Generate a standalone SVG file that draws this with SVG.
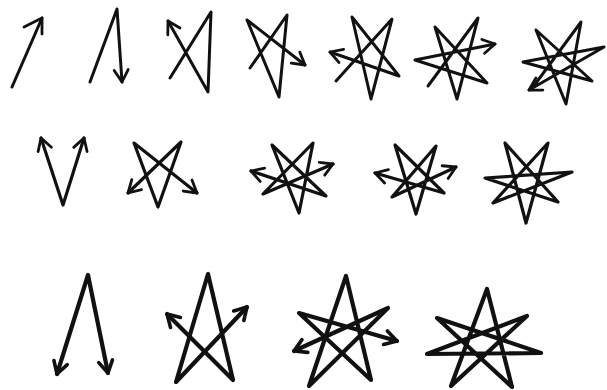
<svg xmlns="http://www.w3.org/2000/svg" width="607" height="390" viewBox="0 0 607 390">
<defs>
<style>
.s{fill:none;stroke:#111;stroke-linecap:round;stroke-linejoin:round}
.r1{stroke-width:3}
.r2{stroke-width:3.2}
.r3{stroke-width:4.2}
.a{marker-end:url(#ah)}
.aa{marker-start:url(#ah);marker-end:url(#ah)}
.ab{marker-start:url(#ahb);marker-end:url(#ahb)}
</style>
<marker id="ah" viewBox="-16 -10 18 20" markerWidth="18" markerHeight="20" refX="0" refY="0" orient="auto-start-reverse" markerUnits="userSpaceOnUse">
<path d="M-12,-7 L0,0 L-12,7" fill="none" stroke="#111" stroke-width="2.8" stroke-linecap="round" stroke-linejoin="round"/>
</marker>
<marker id="ahb" viewBox="-16 -10 18 20" markerWidth="18" markerHeight="20" refX="0" refY="0" orient="auto-start-reverse" markerUnits="userSpaceOnUse">
<path d="M-12,-7 L0,0 L-12,7" fill="none" stroke="#111" stroke-width="3.6" stroke-linecap="round" stroke-linejoin="round"/>
</marker>
</defs>
<rect width="607" height="390" fill="#fff"/>
<g id="row1">
<g id="r1f1">
<polyline class="s r1" points="12,87 42,18"/>
<polyline class="s" stroke-width="2.8" points="24,27 42,18 42,34"/>
</g>
<polyline id="r1f2" class="s r1 a" points="90,82 117,9 122,82"/>
<polyline id="r1f3" class="s r1 a" points="170,78 211,12 208,92 168,21"/>
<polyline id="r1f4" class="s r1 a" points="250,68 287,15 279,97 247,20 305,65"/>
<polyline id="r1f5" class="s r1 a" points="336,81 392,19 371,99 352,17 399,76 330,52"/>
<polyline id="r1f6" class="s r1 a" points="428,86 478,18 457,99 435,27 487,83 415,60 495,44"/>
<polyline id="r1f7" class="s r1 a" points="533,87 581,22 566,104 536,30 592,81 523,62 604,47 529,90"/>
</g>
<g id="row2">
<polyline id="r2f1" class="s r2 aa" points="41,138 63,205 84,138"/>
<polyline id="r2f2" class="s r2 aa" points="128,193 181,142 158,207 134,143 197,193"/>
<polyline id="r2f3" class="s r2 aa" points="251,171 326,196 272,145 299,213 313,143 263,194 333,164"/>
<polyline id="r2f4" class="s r2 aa" points="375,173 444,193 395,145 416,214 436,146 392,197 456,167"/>
<polygon id="r2f5" class="s r2" points="526,223 548,143 493,203 572,172 485,178 558,202 505,143"/>
</g>
<g id="row3">
<polyline id="r3f1" class="s r3 ab" points="57,374 88,275 108,373"/>
<polyline id="r3f2" class="s r3 ab" points="167,314 233,380 208,274 176,382 247,307"/>
<polyline id="r3f3" class="s r3 ab" points="294,351 388,308 309,386 346,276 371,380 299,313 397,341"/>
<polygon id="r3f4" class="s r3" points="487,289 512,387 437,318 541,353 427,354 527,316 451,386"/>
</g>
</svg>
